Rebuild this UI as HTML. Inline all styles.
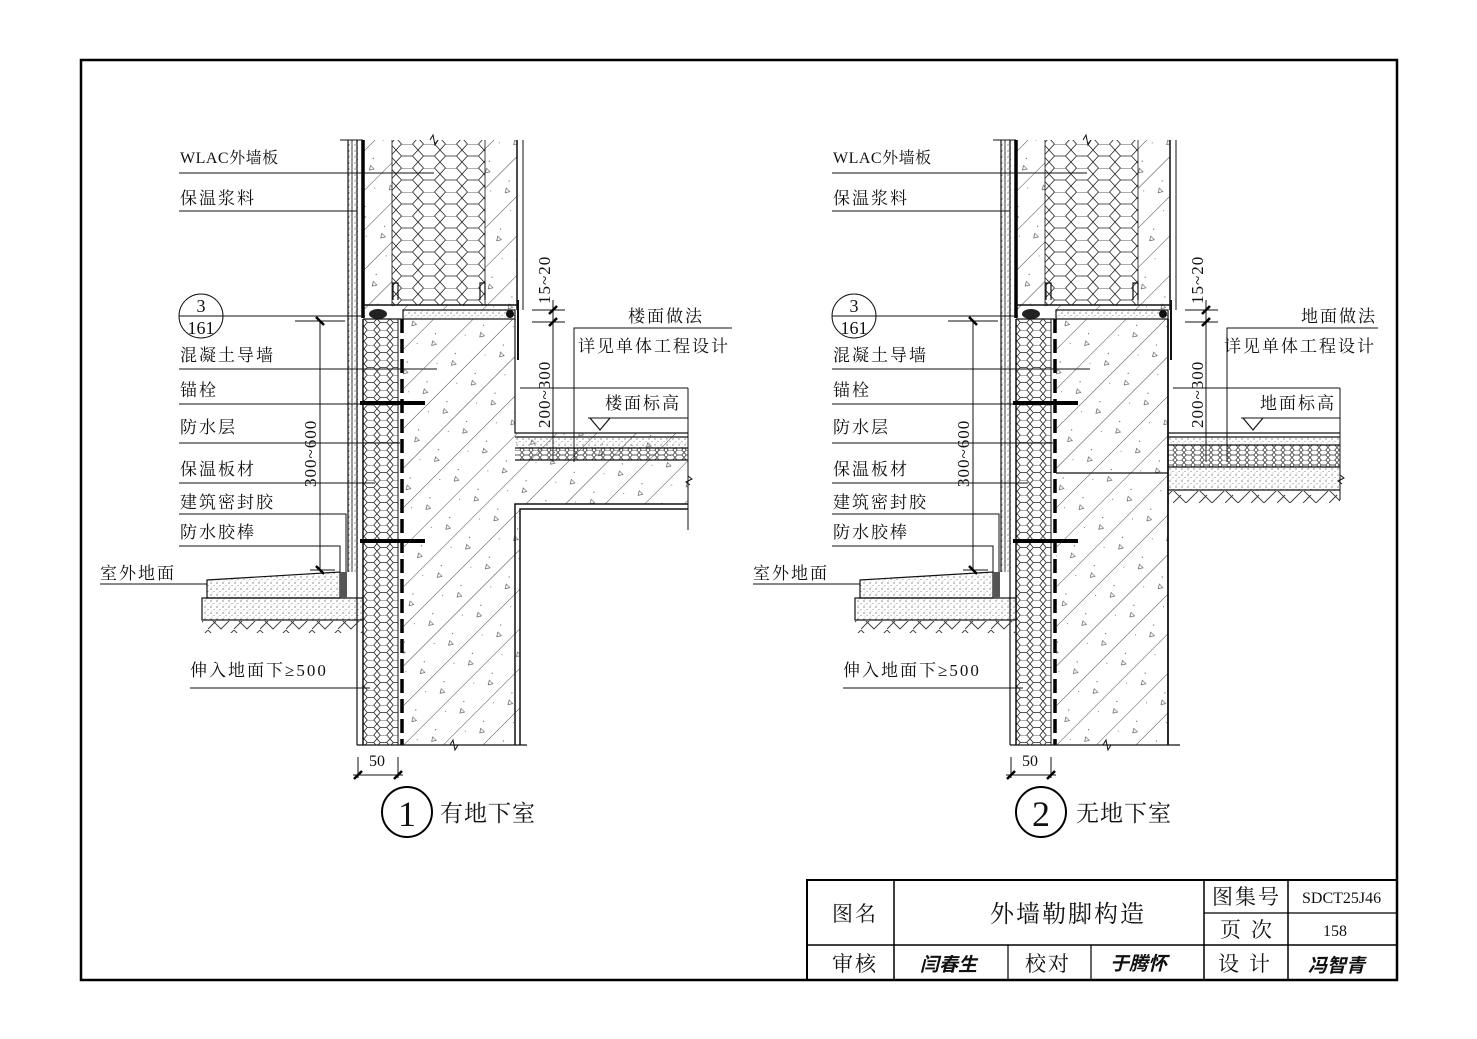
<!DOCTYPE html>
<html><head><meta charset="utf-8"><style>
html,body{margin:0;padding:0;background:#fff}
svg{display:block}
text{font-family:"Liberation Serif","Noto Serif CJK SC","Noto Sans CJK SC",serif;fill:#111}
</style></head><body>
<svg width="1477" height="1039" viewBox="0 0 1477 1039" xmlns="http://www.w3.org/2000/svg">
<defs>
<pattern id="hex" width="13" height="15" patternUnits="userSpaceOnUse">
<path d="M0,3.75 L3.25,0 L9.75,0 L13,3.75 M0,3.75 L3.25,7.5 L9.75,7.5 L13,3.75 M3.25,7.5 L0,11.25 L3.25,15 M9.75,7.5 L13,11.25 L9.75,15" fill="none" stroke="#222" stroke-width="0.8"/>
</pattern>
<pattern id="hexb" width="22" height="24" patternUnits="userSpaceOnUse">
<path d="M0,6 L5.5,0 L16.5,0 L22,6 M0,6 L5.5,12 L16.5,12 L22,6 M5.5,12 L0,18 L5.5,24 M16.5,12 L22,18 L16.5,24" fill="none" stroke="#222" stroke-width="0.8"/>
</pattern>
<pattern id="hexs" width="9" height="10" patternUnits="userSpaceOnUse">
<path d="M0,2.5 L2.25,0 L6.75,0 L9,2.5 L6.75,5 L2.25,5 Z M2.25,5 L0,7.5 L2.25,10 M6.75,5 L9,7.5 L6.75,10" fill="none" stroke="#222" stroke-width="0.7"/>
</pattern>
<pattern id="hatch" width="28" height="40" patternUnits="userSpaceOnUse" patternTransform="rotate(45)">
<line x1="0" y1="0" x2="0" y2="40" stroke="#333" stroke-width="0.9"/>
<circle cx="12" cy="8" r="0.6" fill="#555"/><circle cx="6" cy="28" r="0.5" fill="#555"/>
<path d="M15,15 l5,0 l-2.5,4 z" fill="none" stroke="#444" stroke-width="0.6"/>
</pattern>
<pattern id="dots" width="6" height="6" patternUnits="userSpaceOnUse">
<circle cx="1" cy="1" r="0.6" fill="#444"/><circle cx="4" cy="3.5" r="0.5" fill="#666"/><circle cx="2" cy="5" r="0.4" fill="#666"/>
</pattern>
<pattern id="ground" width="26" height="14" patternUnits="userSpaceOnUse">
<path d="M0,0 L13,13 L26,0 M0,13 L8,5" fill="none" stroke="#333" stroke-width="0.9"/>
</pattern>
<g id="wallcommon">
<rect x="348" y="140" width="10" height="432" fill="url(#dots)"/>
<line x1="348" y1="140" x2="348" y2="572" stroke="#111" stroke-width="1.2"/>
<line x1="352" y1="140" x2="352" y2="572" stroke="#111" stroke-width="0.8"/>
<line x1="357" y1="140" x2="357" y2="745" stroke="#111" stroke-width="1.2"/>
<line x1="340" y1="140" x2="363" y2="140" stroke="#111" stroke-width="1"/>
<rect x="363" y="140" width="154" height="170" fill="url(#hatch)"/>
<rect x="392" y="140" width="93" height="165" fill="#fff"/>
<rect x="392" y="140" width="93" height="165" fill="url(#hexb)"/>
<line x1="392" y1="140" x2="392" y2="305" stroke="#111" stroke-width="0.8"/>
<line x1="485" y1="140" x2="485" y2="305" stroke="#111" stroke-width="0.8"/>
<line x1="363" y1="140" x2="363" y2="318" stroke="#000" stroke-width="3.5"/>
<line x1="517" y1="140" x2="517" y2="310" stroke="#111" stroke-width="1.5"/>
<line x1="523" y1="140" x2="523" y2="310" stroke="#111" stroke-width="1"/>
<line x1="363" y1="305" x2="517" y2="305" stroke="#111" stroke-width="1.5"/>
<path d="M393,300 V283 H398 V300 M480,300 V283 H485 V300" fill="none" stroke="#111" stroke-width="1.2"/>
<rect x="403" y="310" width="112" height="9" fill="url(#dots)" stroke="#111" stroke-width="1.2"/>
<ellipse cx="378" cy="314" rx="9" ry="5" fill="#222"/>
<circle cx="510" cy="314" r="4" fill="#111"/>
<path d="M518,300 L518,360" stroke="#111" stroke-width="2"/>
<path d="M430,140 l3,-5 l2,10 l3,-5" fill="none" stroke="#111"/>
<rect x="363" y="319" width="35" height="426" fill="url(#hex)"/>
<line x1="363" y1="319" x2="363" y2="745" stroke="#111" stroke-width="1.5"/>
<line x1="398" y1="319" x2="398" y2="745" stroke="#111" stroke-width="1"/>
<line x1="402" y1="319" x2="402" y2="745" stroke="#000" stroke-width="3.5" stroke-dasharray="14,6"/>
<line x1="363" y1="319" x2="402" y2="319" stroke="#111" stroke-width="1.2"/>
<path d="M360,403 H425" stroke="#000" stroke-width="4"/>
<path d="M360,541 H425" stroke="#000" stroke-width="4"/>
<line x1="357" y1="745" x2="527" y2="745" stroke="#111" stroke-width="1.2"/>
<path d="M207,580 L340,572 L340,598 L207,598 Z" fill="url(#dots)" stroke="#111" stroke-width="1.2"/>
<rect x="202" y="598" width="161" height="22" fill="url(#dots)" stroke="#111" stroke-width="1.2"/>
<rect x="202" y="621" width="161" height="12" fill="url(#ground)"/>
<rect x="340" y="572" width="7" height="26" fill="#555"/>
<g font-size="17" letter-spacing="2">
<text x="180" y="163" font-size="16" letter-spacing="0.5">WLAC外墙板</text>
<text x="180" y="204">保温浆料</text>
<text x="180" y="361">混凝土导墙</text>
<text x="180" y="396">锚栓</text>
<text x="180" y="433">防水层</text>
<text x="180" y="475">保温板材</text>
<text x="180" y="508">建筑密封胶</text>
<text x="180" y="538">防水胶棒</text>
<text x="100" y="579">室外地面</text>
<text x="190" y="676">伸入地面下≥500</text>
</g>
<g stroke="#111" stroke-width="1" fill="none">
<path d="M179,173 H434"/><path d="M179,211 H357"/><path d="M179,369 H437"/>
<path d="M179,404 H360"/><path d="M179,443 H400"/><path d="M179,483 H375"/>
<path d="M179,514 H346 V572"/><path d="M179,546 H340 V572"/><path d="M100,584 H207"/>
<path d="M190,688 H370"/>
<circle cx="201" cy="316" r="22"/><path d="M179,316 H365"/>
<path d="M295,321 H345"/><path d="M320,321 V570"/><path d="M310,570 H335"/>
</g>
<path d="M316,317 l8,8 M316,566 l8,8" stroke="#000" stroke-width="2.5"/>
<text x="201" y="312" font-size="18" text-anchor="middle">3</text>
<text x="201" y="334" font-size="18" text-anchor="middle">161</text>
<text transform="translate(316,487) rotate(-90)" font-size="17" letter-spacing="1">300~600</text>
<g stroke="#111" stroke-width="1"><path d="M358,757 V778 M398,757 V778 M353,775 H403"/></g>
<path d="M354,779 l8,-8 M394,779 l8,-8" stroke="#000" stroke-width="2.5"/>
<text x="369" y="766" font-size="16">50</text>
<g stroke="#111" stroke-width="1" fill="none"><path d="M532,310 H565 M532,322 H565 M553,300 V462"/></g>
<path d="M549,314 l8,-8 M549,326 l8,-8" stroke="#000" stroke-width="2.5"/>
<text transform="translate(550,304) rotate(-90)" font-size="17" letter-spacing="1">15~20</text>
<text transform="translate(550,428) rotate(-90)" font-size="17" letter-spacing="1">200~300</text>
</g>
</defs>

<rect x="81" y="60" width="1316" height="920" fill="none" stroke="#000" stroke-width="2.5"/>

<use href="#wallcommon"/>
<path d="M403,319 H515 V433 H688 V504 H520 V745 H403 Z" fill="url(#hatch)"/>
<rect x="515" y="437" width="173" height="11" fill="url(#dots)"/>
<rect x="515" y="448" width="173" height="12" fill="url(#hexs)"/>
<g stroke="#111" fill="none">
<path d="M515,319 V433 H688" stroke-width="1.2"/>
<path d="M515,437 H688 M515,448 H688 M515,460 H688" stroke-width="1.2"/>
<path d="M520,745 V509 H688 M515,745 V504 H688" stroke-width="1.5"/>
<path d="M688,388 V530" stroke-width="1"/>
<path d="M688,476 l4,3 l-6,3 l4,3" stroke-width="1"/>
<path d="M520,388 H688" stroke-width="1"/>
<path d="M574,462 V328 H732" stroke-width="1"/>
<path d="M588,418 H688" stroke-width="1"/>
<path d="M590,418 l10,12 l10,-12" stroke-width="1.2"/>
<path d="M450,745 l3,-5 l2,10 l3,-5" stroke-width="1"/>
</g>
<g font-size="17" letter-spacing="2">
<text x="628" y="322">楼面做法</text>
<text x="578" y="352">详见单体工程设计</text>
<text x="605" y="409">楼面标高</text>
</g>
<circle cx="407" cy="812" r="25" fill="none" stroke="#000" stroke-width="2"/>
<text x="407" y="826" font-size="36" text-anchor="middle">1</text>
<text x="440" y="821" font-size="23" letter-spacing="1">有地下室</text>

<g transform="translate(653,0)">
<use href="#wallcommon"/>
<path d="M403,319 H515 V745 H403 Z" fill="url(#hatch)"/>
<rect x="515" y="437" width="172" height="8" fill="url(#dots)"/>
<rect x="515" y="445" width="172" height="22" fill="url(#hexs)"/>
<rect x="515" y="467" width="172" height="23" fill="url(#dots)"/>
<rect x="515" y="491" width="172" height="12" fill="url(#ground)"/>
<g stroke="#111" fill="none">
<path d="M515,319 V745" stroke-width="1.8"/>
<path d="M515,433 H687 M515,437 H687 M515,445 H687 M515,467 H687 M515,490 H687" stroke-width="1.2"/>
<path d="M403,473 H515" stroke-width="1.2"/>
<path d="M687,388 V500" stroke-width="1"/>
<path d="M687,475 l4,3 l-6,3 l4,3" stroke-width="1"/>
<path d="M520,388 H687" stroke-width="1"/>
<path d="M574,462 V328 H725" stroke-width="1"/>
<path d="M588,418 H687" stroke-width="1"/>
<path d="M590,418 l10,12 l10,-12" stroke-width="1.2"/>
<path d="M450,745 l3,-5 l2,10 l3,-5" stroke-width="1"/>
</g>
<g font-size="17" letter-spacing="2">
<text x="648" y="322">地面做法</text>
<text x="571" y="352">详见单体工程设计</text>
<text x="607" y="409">地面标高</text>
</g>
<circle cx="388" cy="812" r="25" fill="none" stroke="#000" stroke-width="2"/>
<text x="388" y="826" font-size="36" text-anchor="middle">2</text>
<text x="423" y="821" font-size="23" letter-spacing="1">无地下室</text>
</g>

<g stroke="#000" fill="none">
<path d="M807,980 V880 H1397" stroke-width="2"/>
<path d="M807,945 H1397" stroke-width="1.5"/>
<path d="M1204,913 H1397" stroke-width="1.2"/>
<path d="M894,880 V980 M1204,880 V980 M1288,880 V980" stroke-width="1.5"/>
<path d="M1008,945 V980 M1091,945 V980" stroke-width="1.2"/>
</g>
<g font-size="21" letter-spacing="2">
<text x="832" y="921">图名</text>
<text x="990" y="922" font-size="24">外墙勒脚构造</text>
<text x="1212" y="904">图集号</text>
<text x="1220" y="937" letter-spacing="10">页次</text>
<text x="832" y="971">审核</text>
<text x="1025" y="971">校对</text>
<text x="1218" y="971" letter-spacing="10">设计</text>
</g>
<text x="1302" y="903" font-size="16">SDCT25J46</text>
<text x="1323" y="936" font-size="16">158</text>
<g font-style="italic" font-weight="bold" font-size="19">
<text x="920" y="971" style="font-family:'Noto Sans CJK SC',sans-serif">闫春生</text>
<text x="1110" y="970" style="font-family:'Noto Sans CJK SC',sans-serif">于腾怀</text>
<text x="1308" y="972" style="font-family:'Noto Sans CJK SC',sans-serif">冯智青</text>
</g>
</svg>
</body></html>
